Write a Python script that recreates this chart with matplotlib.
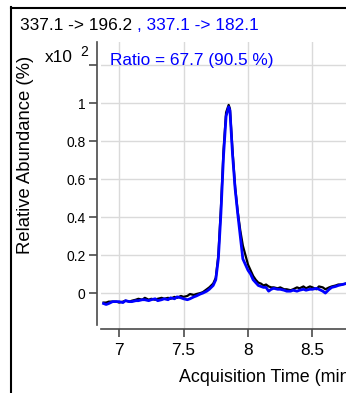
import matplotlib
matplotlib.use("Agg")
import matplotlib.pyplot as plt
from matplotlib.lines import Line2D

plt.rcParams['font.family'] = ['Liberation Sans', 'DejaVu Sans']

# Acquisition time (min)
time = [6.88, 6.90, 6.92, 6.95, 6.98, 7.00, 7.03, 7.05, 7.08, 7.10,
        7.13, 7.15, 7.18, 7.20, 7.23, 7.25, 7.28, 7.30, 7.33, 7.35,
        7.38, 7.40, 7.43, 7.45, 7.48, 7.50, 7.53, 7.55, 7.58, 7.60,
        7.63, 7.65, 7.68, 7.70, 7.73, 7.75, 7.77, 7.79, 7.81, 7.83,
        7.85, 7.86, 7.88, 7.90, 7.92, 7.94, 7.96, 7.98, 8.00, 8.02,
        8.04, 8.06, 8.08, 8.10, 8.12, 8.14, 8.16, 8.18, 8.20, 8.23,
        8.25, 8.28, 8.30, 8.33, 8.35, 8.38, 8.40, 8.43, 8.45, 8.48,
        8.50, 8.53, 8.55, 8.58, 8.60, 8.63, 8.65, 8.68, 8.70, 8.73,
        8.76]

# Quantifier transition 337.1 -> 196.2 (x10^2 %)
quant = [-0.050, -0.050, -0.045, -0.045, -0.045, -0.050, -0.045, -0.040, -0.045, -0.040,
         -0.035, -0.030, -0.035, -0.025, -0.035, -0.030, -0.035, -0.030, -0.025, -0.030,
         -0.025, -0.030, -0.020, -0.025, -0.015, -0.020, -0.015, -0.005, -0.010, -0.005,
         0.000, 0.005, 0.020, 0.030, 0.050, 0.080, 0.200, 0.450, 0.750, 0.950,
         0.990, 0.970, 0.750, 0.560, 0.430, 0.330, 0.250, 0.200, 0.150, 0.120,
         0.090, 0.070, 0.055, 0.050, 0.040, 0.045, 0.035, 0.030, 0.030, 0.025,
         0.030, 0.020, 0.020, 0.015, 0.020, 0.030, 0.025, 0.035, 0.025, 0.035,
         0.030, 0.020, 0.035, 0.030, 0.020, 0.030, 0.035, 0.040, 0.045, 0.045,
         0.050]

# Qualifier transition 337.1 -> 182.1 (x10^2 %)
qual = [-0.055, -0.060, -0.055, -0.045, -0.045, -0.045, -0.050, -0.040, -0.045, -0.045,
        -0.040, -0.040, -0.035, -0.035, -0.040, -0.035, -0.030, -0.040, -0.035, -0.030,
        -0.035, -0.025, -0.030, -0.020, -0.025, -0.030, -0.035, -0.030, -0.020, -0.015,
        -0.005, 0.000, 0.010, 0.020, 0.040, 0.070, 0.180, 0.420, 0.720, 0.930,
        0.980, 0.960, 0.730, 0.550, 0.420, 0.300, 0.180, 0.150, 0.120, 0.100,
        0.070, 0.055, 0.040, 0.035, 0.030, 0.030, 0.010, 0.020, 0.025, 0.020,
        0.020, 0.015, 0.010, 0.010, 0.015, 0.010, 0.015, 0.020, 0.015, 0.020,
        0.020, 0.025, 0.020, 0.010, 0.000, 0.020, 0.030, 0.035, 0.040, 0.045,
        0.050]

x_ticks = [7, 7.5, 8, 8.5]
x_tick_labels = ["7", "7.5", "8", "8.5"]
y_ticks = [0, 0.2, 0.4, 0.6, 0.8, 1.0, 1.2]
y_tick_labels = ["0", "0.2", "0.4", "0.6", "0.8", "1", ""]

W, H = 346, 393
fig = plt.figure(figsize=(W / 100, H / 100), dpi=100)

def fx(px):
    return px / W

def fy(py):
    return 1 - py / H

ax_left, ax_right, ax_top, ax_bottom = 101, 346, 42, 329
ax = fig.add_axes([fx(ax_left), fy(ax_bottom), fx(ax_right - ax_left), (ax_bottom - ax_top) / H])

ax.set_xlim(6.86, 8.76)
ax.set_ylim(-0.189, 1.321)

ax.plot(time, quant, color="black", lw=1.6, zorder=3)
ax.plot(time, qual, color="#0000ff", lw=2.0, zorder=4)

fs = 12.4
fs_lab = 13.3
ax.set_xticks(x_ticks)
ax.set_xticklabels(x_tick_labels, fontsize=fs)
ax.set_yticks(y_ticks)
ax.set_yticklabels(y_tick_labels, fontsize=fs)
ax.grid(True, color="#dadada", lw=1.0, zorder=0)
ax.set_axisbelow(True)

spine_col = "#4a4a4a"
for s in ["top", "right"]:
    ax.spines[s].set_visible(False)
ax.spines["left"].set_position(("outward", 3))
ax.spines["left"].set_bounds(-0.168, 1.321)
ax.spines["left"].set_color(spine_col)
ax.spines["bottom"].set_color(spine_col)
ax.spines["left"].set_linewidth(1.2)
ax.spines["bottom"].set_linewidth(1.2)
ax.tick_params(axis="both", colors=spine_col, length=6, width=1.2, labelcolor="black")
ax.tick_params(axis="y", pad=2)
ax.tick_params(axis="x", pad=4)

# scale multiplier at the top tick
fig.text(fx(45), fy(58), "x10", fontsize=fs, ha="left", va="center", color="black")
fig.text(fx(80), fy(52), "2", fontsize=10, ha="left", va="center", color="black")

# y-axis label
fig.text(fx(25), fy(155), "Relative Abundance (%)", fontsize=fs_lab, rotation=90,
         ha="center", va="center", color="black")
# x-axis label (runs past the right edge)
fig.text(fx(179), fy(378), "Acquisition Time (min)", fontsize=12.9, ha="left", va="center",
         color="black")

# transition title: quantifier in black, qualifier in blue
t1 = fig.text(fx(20), fy(26), "337.1 -> 196.2 ", fontsize=fs, ha="left", va="center", color="black")
fig.canvas.draw()
bb = t1.get_window_extent()
fig.text(bb.x1 / W, fy(26), ", 337.1 -> 182.1", fontsize=fs, ha="left", va="center", color="#0000ff")

# ratio annotation
fig.text(fx(110), fy(61), "Ratio = 67.7 (90.5 %)", fontsize=fs, ha="left", va="center",
         color="#0000ff")

# outer frame
fig.add_artist(Line2D([fx(11.5), fx(11.5)], [fy(7), 0], transform=fig.transFigure,
                      color="black", lw=1.5))
fig.add_artist(Line2D([fx(11), 1], [fy(7.5), fy(7.5)], transform=fig.transFigure,
                      color="black", lw=1.5))

fig.savefig("out.png", dpi=100)
